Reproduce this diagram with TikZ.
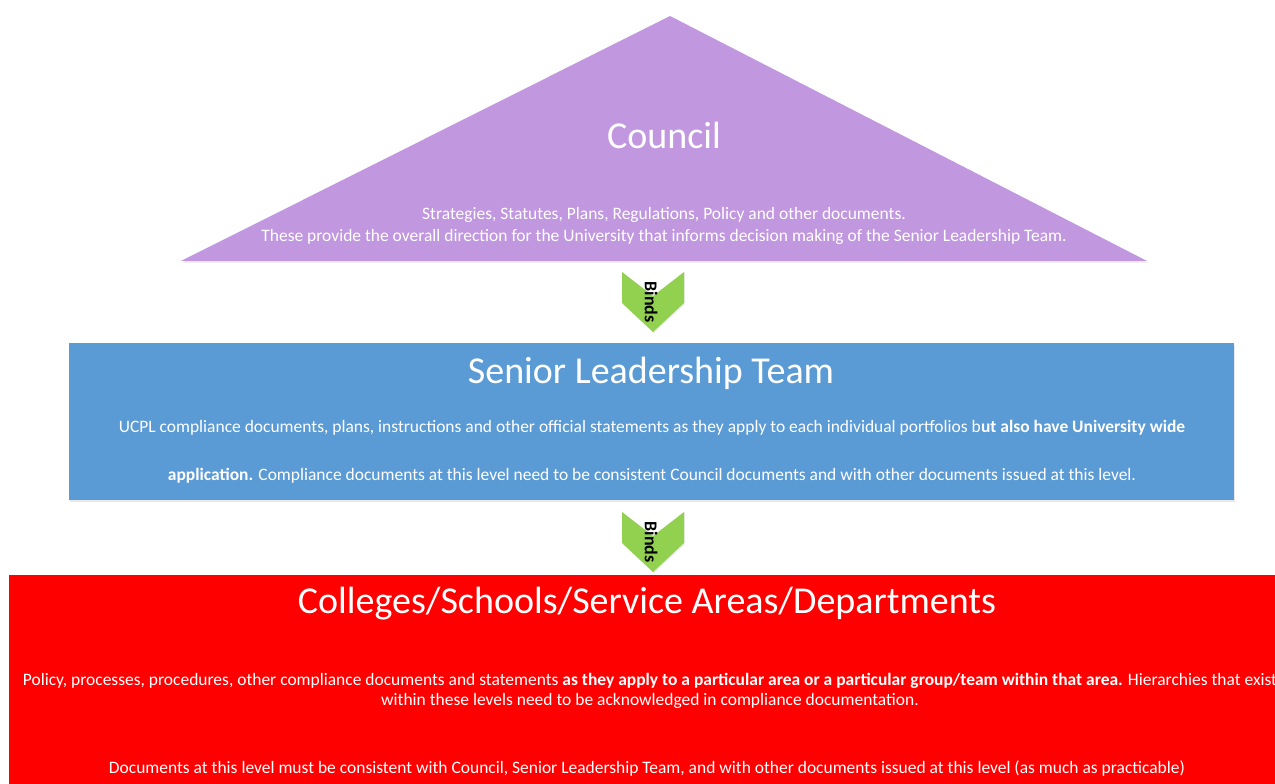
\documentclass[tikz,border=0pt]{standalone}
\usepackage{fontspec}
\setmainfont{Carlito}
\usetikzlibrary{shadows,positioning}
\definecolor{councilcol}{HTML}{C198E0}
\definecolor{sltcol}{HTML}{5B9BD5}
\definecolor{areacol}{HTML}{FF0000}
\definecolor{bindcol}{HTML}{92D050}

\begin{document}
\begin{tikzpicture}[x=0.75pt, y=-0.75pt,
  level/.style={inner sep=0pt, drop shadow={opacity=0.18, shadow xshift=1pt, shadow yshift=-1.2pt}},
  title/.style={font=\fontsize{28.5}{32}\selectfont, text=white},
  body/.style={font=\fontsize{13.1}{16.5}\selectfont, text=white, align=center},
  bindtext/.style={rotate=-90, inner sep=0pt, font=\fontsize{13.5}{15}\selectfont\bfseries},
  chevron/.style={fill=bindcol, drop shadow={opacity=0.15, shadow xshift=0.8pt, shadow yshift=-0.8pt}}
]
  \clip (0,0) rectangle (1275,784);
  \fill[white] (0,0) rectangle (1275,784);

  % top level
  \fill[councilcol, level] (670,16) -- (1147,261) -- (181,261) -- cycle;
  \node[title] (council) at (664,135) {Council};
  \node[body] (councildocs) at (664,226)
    {Strategies, Statutes, Plans, Regulations, Policy and other documents.\\
     These provide the overall direction for the University that informs decision making of the Senior Leadership Team.};

  \fill[chevron, shift={(653,302)}] (-31,-30) -- (0,-6) -- (31,-30) -- (31,1) -- (0,30) -- (-31,1) -- cycle;
  \node[bindtext] (bindsA) at (651,302) {Binds};

  % middle level
  \node[level, fill=sltcol, minimum width=873.75pt, minimum height=117.75pt] (slt) at (651.5,421.5) {};
  \node[title] (slttitle) at (651,373) {Senior Leadership Team};
  \node[body, font=\fontsize{13.1}{36}\selectfont] (sltdocs) at (652,452)
    {UCPL compliance documents, plans, instructions and other official statements as they apply to each individual portfolios b\textbf{ut also have University wide}\\
     \textbf{application.} Compliance documents at this level need to be consistent Council documents and with other documents issued at this level.};

  \fill[chevron, shift={(653,542)}] (-31,-30) -- (0,-6) -- (31,-30) -- (31,1) -- (0,30) -- (-31,1) -- cycle;
  \node[bindtext] (bindsB) at (651,542) {Binds};

  % bottom level
  \node[level, fill=areacol, minimum width=960.75pt, minimum height=168.75pt] (area) at (649.5,687.5) {};
  \node[title] (areatitle) at (647,604) {Colleges/Schools/Service Areas/Departments};
  \node[body, font=\fontsize{13.1}{15}\selectfont] (areadocs) at (650,691)
    {Policy, processes, procedures, other compliance documents and statements \textbf{as they apply to a particular area or a particular group/team within that area.} Hierarchies that exist\\
     within these levels need to be acknowledged in compliance documentation.};
  \node[body] (arearule) at (647,769)
    {Documents at this level must be consistent with Council, Senior Leadership Team, and with other documents issued at this level (as much as practicable)};
\end{tikzpicture}
\end{document}
